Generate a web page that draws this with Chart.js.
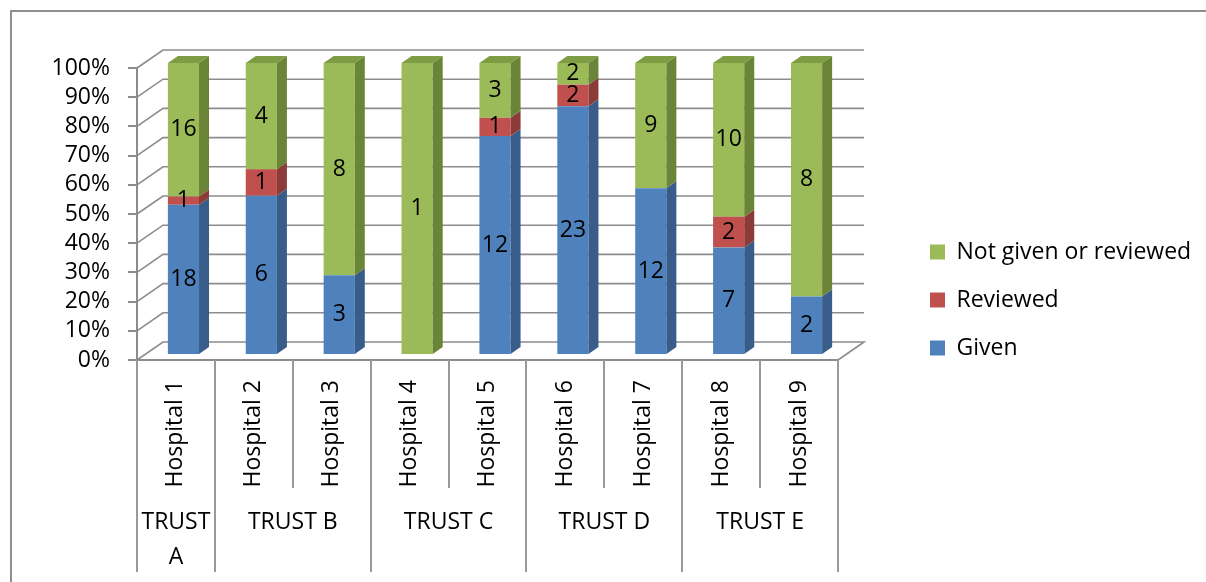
<!DOCTYPE html>
<html>
<head>
<meta charset="utf-8">
<title>Hospitals by trust</title>
<script src="https://cdn.jsdelivr.net/npm/chart.js@4/dist/chart.umd.min.js"></script>
<style>
  html, body { margin: 0; padding: 0; background: #ffffff; }
  #wrap { width: 1206px; height: 582px; position: relative; }
</style>
</head>
<body>
<div id="wrap"><canvas id="chart"></canvas></div>
<script>
// ---- data -------------------------------------------------------------
const hospitals = ['Hospital 1', 'Hospital 2', 'Hospital 3', 'Hospital 4', 'Hospital 5',
                   'Hospital 6', 'Hospital 7', 'Hospital 8', 'Hospital 9'];
const trusts = ['TRUST A', 'TRUST B', 'TRUST C', 'TRUST D', 'TRUST E'];
const trustOfHospital = [0, 1, 1, 2, 2, 3, 3, 4, 4];

const given    = [18, 6, 3, 0, 12, 23, 12, 7, 2];
const reviewed = [ 1, 1, 0, 0,  1,  2,  0, 2, 0];
const notGiven = [16, 4, 8, 1,  3,  2,  9, 10, 8];

const yTicks = [0, 10, 20, 30, 40, 50, 60, 70, 80, 90, 100];

// each bar is shown as a share of that hospital's total
const totals = hospitals.map((_, i) => given[i] + reviewed[i] + notGiven[i]);
const asPercent = arr => arr.map((v, i) => v / totals[i] * 100);

// ---- look -------------------------------------------------------------
const FONT = '"Open Sans", "Noto Sans", sans-serif';
const FONT_SIZE = 23;
const AXIS_GREY = '#8c8c8c';
const PLOT_RIGHT = 838;          // right edge of the front floor
const WALL = { dx: 26, dy: -18 }; // back wall offset from the front plane
const BAR_SHIFT = { dx: 7.5, dy: -5 }; // bar front faces sit a little way back
const BAR_DEPTH = { dx: 10, dy: -7 };
const LEGEND_POS = { x: 905, cy: 300 };

Chart.defaults.font.family = FONT;

// Draws the box frame, the back wall, the bar sides/tops, value labels
// and the grouped category rows.
const scene3d = {
  id: 'scene3d',
  beforeDraw(chart) {
    const { ctx, width, height } = chart;
    ctx.save();
    ctx.fillStyle = '#ffffff';
    ctx.fillRect(0, 0, width, height);
    ctx.strokeStyle = '#8e8e8e';
    ctx.lineWidth = 2;
    ctx.beginPath();
    ctx.moveTo(11, height);
    ctx.lineTo(11, 11);
    ctx.lineTo(width, 11);
    ctx.stroke();
    ctx.restore();

    // place the legend to the right of the plot
    const lg = chart.legend;
    if (lg) {
      const h = lg.height;
      lg.left = LEGEND_POS.x; lg.right = width; lg.width = width - LEGEND_POS.x;
      lg.top = LEGEND_POS.cy - h / 2; lg.bottom = lg.top + h;
    }
  },
  beforeDatasetsDraw(chart) {
    const { ctx, chartArea, scales } = chart;
    const y = scales.y;
    ctx.save();
    ctx.strokeStyle = AXIS_GREY;
    ctx.lineWidth = 1.6;
    yTicks.forEach(v => {
      const py = y.getPixelForValue(v);
      ctx.beginPath();
      ctx.moveTo(chartArea.left, py);
      ctx.lineTo(chartArea.left + WALL.dx, py + WALL.dy);
      ctx.lineTo(chartArea.right + WALL.dx, py + WALL.dy);
      if (v === 0) {
        ctx.lineTo(chartArea.right, py);
      }
      ctx.stroke();
    });
    ctx.restore();

    // category rows under the floor
    drawCategoryRows(chart);

    ctx.save();
    ctx.translate(BAR_SHIFT.dx, BAR_SHIFT.dy);
  },
  afterDatasetsDraw(chart) {
    const { ctx } = chart;
    const metas = chart.data.datasets.map((_, i) => chart.getDatasetMeta(i));
    const n = chart.data.labels.length;

    for (let j = 0; j < n; j++) {
      let topIdx = -1;
      metas.forEach((meta, d) => {
        const ds = chart.data.datasets[d];
        if (ds.data[j] > 0) topIdx = d;
      });
      metas.forEach((meta, d) => {
        const ds = chart.data.datasets[d];
        if (!(ds.data[j] > 0)) return;
        const bar = meta.data[j];
        const { x, y, base, width } = bar.getProps(['x', 'y', 'base', 'width'], true);
        const l = x - width / 2, r = x + width / 2;
        // side face
        ctx.fillStyle = ds.sideColor;
        ctx.beginPath();
        ctx.moveTo(r, y);
        ctx.lineTo(r + BAR_DEPTH.dx, y + BAR_DEPTH.dy);
        ctx.lineTo(r + BAR_DEPTH.dx, base + BAR_DEPTH.dy);
        ctx.lineTo(r, base);
        ctx.closePath();
        ctx.fill();
        // top face on the upper segment only
        if (d === topIdx) {
          ctx.fillStyle = ds.topColor;
          ctx.beginPath();
          ctx.moveTo(l, y);
          ctx.lineTo(r, y);
          ctx.lineTo(r + BAR_DEPTH.dx, y + BAR_DEPTH.dy);
          ctx.lineTo(l + BAR_DEPTH.dx, y + BAR_DEPTH.dy);
          ctx.closePath();
          ctx.fill();
        }
      });
    }

    // value labels (counts) on the front faces
    ctx.fillStyle = '#000000';
    ctx.font = FONT_SIZE + 'px ' + FONT;
    ctx.textAlign = 'center';
    ctx.textBaseline = 'middle';
    metas.forEach((meta, d) => {
      const ds = chart.data.datasets[d];
      meta.data.forEach((bar, j) => {
        const count = ds.counts[j];
        if (!count) return;
        const { x, y, base } = bar.getProps(['x', 'y', 'base'], true);
        ctx.fillText(String(count), x, (y + base) / 2);
      });
    });
    ctx.restore();
  }
};

function drawCategoryRows(chart) {
  const { ctx, chartArea, scales } = chart;
  const x = scales.x;
  const n = hospitals.length;
  const edge = i => x.getPixelForValue(i - 0.5);
  const top = chartArea.bottom;
  const hospitalRowBottom = 488;
  const trustRowBottom = 572;

  ctx.save();
  ctx.strokeStyle = '#999999';
  ctx.lineWidth = 2;
  for (let i = 0; i <= n; i++) {
    const isTrustEdge = i === 0 || i === n || trustOfHospital[i] !== trustOfHospital[i - 1];
    const px = Math.round(edge(i));
    ctx.beginPath();
    ctx.moveTo(px, top);
    ctx.lineTo(px, isTrustEdge ? trustRowBottom : hospitalRowBottom);
    ctx.stroke();
  }

  // trust names, centred under their hospitals, wrapped when too wide
  ctx.fillStyle = '#000000';
  ctx.font = FONT_SIZE + 'px ' + FONT;
  ctx.textAlign = 'center';
  ctx.textBaseline = 'middle';
  trusts.forEach((name, t) => {
    const members = trustOfHospital.map((v, i) => v === t ? i : -1).filter(i => i >= 0);
    const l = edge(members[0]);
    const r = edge(members[members.length - 1] + 1);
    const cx = (l + r) / 2;
    let lines = [name];
    if (ctx.measureText(name).width > r - l - 4) {
      const k = name.lastIndexOf(' ');
      lines = [name.slice(0, k), name.slice(k + 1)];
    }
    lines.forEach((ln, li) => ctx.fillText(ln, cx, 522 + li * 35));
  });
  ctx.restore();
}

const chart = new Chart(document.getElementById('chart'), {
  type: 'bar',
  data: {
    labels: hospitals,
    datasets: [
      { label: 'Given', data: asPercent(given), counts: given,
        backgroundColor: '#4F81BD', sideColor: '#385D8A', topColor: '#6A95C9' },
      { label: 'Reviewed', data: asPercent(reviewed), counts: reviewed,
        backgroundColor: '#C0504D', sideColor: '#8C3B39', topColor: '#CC6B68' },
      { label: 'Not given or reviewed', data: asPercent(notGiven), counts: notGiven,
        backgroundColor: '#9BBB59', sideColor: '#6A8438', topColor: '#7E9C44' }
    ]
  },
  options: {
    responsive: true,
    maintainAspectRatio: false,
    animation: false,
    events: [],
    layout: { padding: { top: 68, left: 0, right: 0, bottom: 0 } },
    datasets: { bar: { categoryPercentage: 0.4, barPercentage: 1, borderWidth: 0, clip: false } },
    scales: {
      x: {
        stacked: true,
        grid: { display: false, drawTicks: false },
        border: { display: true, color: AXIS_GREY, width: 2 },
        ticks: { autoSkip: false, minRotation: 90, maxRotation: 90, padding: 20,
                 color: '#000000', font: { size: FONT_SIZE } },
        afterFit(s) { s.height = 222; }
      },
      y: {
        stacked: true, min: 0, max: 100,
        afterBuildTicks(s) { s.ticks = yTicks.map(v => ({ value: v })); },
        grid: { drawOnChartArea: false, drawTicks: true, tickLength: 9, color: AXIS_GREY, lineWidth: 2 },
        border: { display: true, color: AXIS_GREY, width: 2 },
        ticks: { autoSkip: false, padding: 18, color: '#000000', font: { size: FONT_SIZE },
                 callback: v => v + '%' },
        afterFit(s) { s.width = 137; }
      }
    },
    plugins: {
      legend: {
        position: 'right',
        reverse: true,
        maxWidth: 280,
        labels: { boxWidth: 15, boxHeight: 15, padding: 25, color: '#000000', font: { size: FONT_SIZE } }
      },
      tooltip: { enabled: false }
    }
  },
  plugins: [scene3d]
});

// settle the plot's right edge beside the legend
for (let pass = 0; pass < 4; pass++) {
  const delta = chart.chartArea.right - PLOT_RIGHT;
  if (Math.abs(delta) < 0.5) break;
  chart.options.layout.padding.right = Math.max(0, chart.options.layout.padding.right + delta);
  chart.update();
}
</script>
</body>
</html>
